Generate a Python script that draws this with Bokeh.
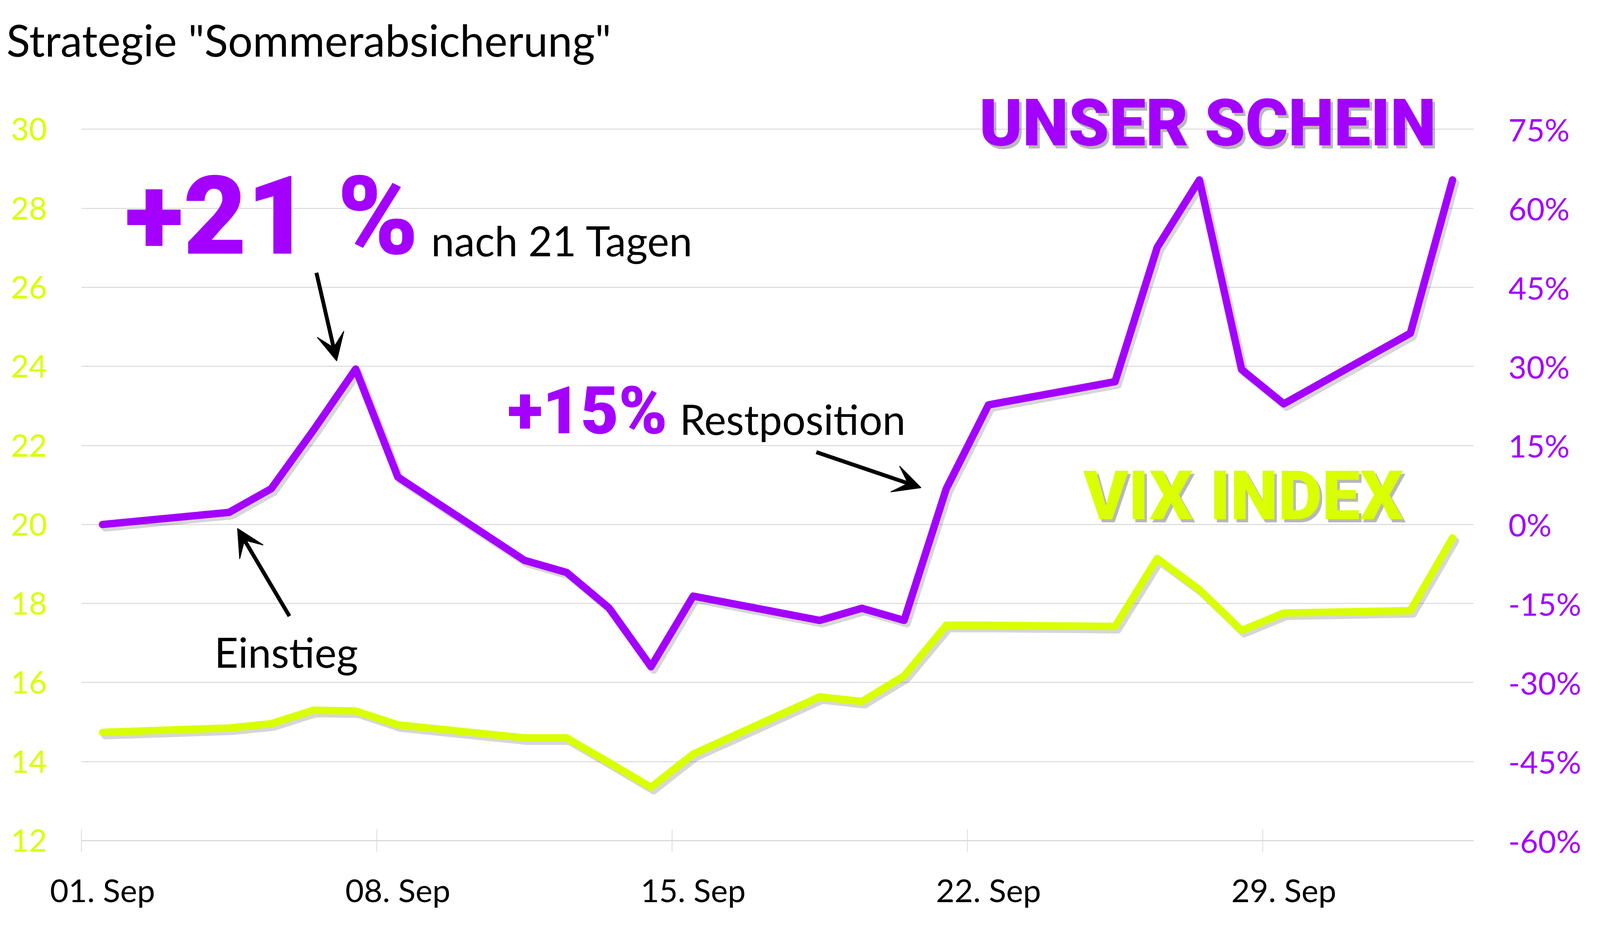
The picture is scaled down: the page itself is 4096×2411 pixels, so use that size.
from bokeh.plotting import figure
from bokeh.models import (Range1d, LinearAxis, FixedTicker, PrintfTickFormatter,
                          Label, Arrow, VeeHead, ColumnDataSource)
from bokeh.transform import dodge
from bokeh.embed import file_html
from bokeh.resources import INLINE

# ---------------- data ----------------
# trading day position (day number counted from 31 Aug: 1 = 01. Sep, 32 = 02. Okt)
day = [1, 4, 5, 6, 7, 8, 11, 12, 13, 14, 15, 18, 19, 20, 21, 22, 25, 26, 27, 28, 29, 32, 33]
vix_index = [14.74, 14.85, 14.96, 15.30, 15.28, 14.93, 14.60, 14.60, 13.98, 13.35, 14.19,
             15.64, 15.52, 16.17, 17.45, 17.45, 17.42, 19.14, 18.35, 17.32, 17.76, 17.82, 19.66]
unser_schein_pct = [0.0, 2.3, 6.8, 17.9, 29.5, 9.0, -6.8, -9.1, -15.8, -27.0, -13.6,
                    -18.2, -15.9, -18.2, 6.8, 22.7, 27.1, 52.6, 65.4, 29.4, 22.9, 36.3, 65.4]

x_tick_days = [1, 8, 15, 22, 29]
x_tick_labels = ["01. Sep", "08. Sep", "15. Sep", "22. Sep", "29. Sep"]
x_tick_marks = [0.5, 7.5, 14.5, 21.5, 28.5]
vix_ticks = [12, 14, 16, 18, 20, 22, 24, 26, 28, 30]
pct_ticks = [-60, -45, -30, -15, 0, 15, 30, 45, 60, 75]

title_text = 'Strategie "Sommerabsicherung"'

PURPLE = "#A300FF"
YELLOW = "#D9FF00"
GRID = "#D9D9D9"
FONT = "Lato"
HEAVY = "Roboto Black, Lato Black, Lato"

src = ColumnDataSource(dict(day=day, vix=vix_index, pct=unser_schein_pct))

Y_TOP = 31.3  # headroom above the 30 gridline for the series labels
PX_PER_UNIT = 101.33  # frame pixels per VIX point
p = figure(width=4080, height=2395, output_backend="svg", toolbar_location=None,
           x_range=Range1d(0.5, 33.5), y_range=Range1d(12, Y_TOP),
           min_border_left=208, min_border_right=308, min_border_top=195, min_border_bottom=244,
           x_axis_location=None, y_axis_location="left")
p.extra_y_ranges = {"pct": Range1d(-60, (Y_TOP - 20) * 7.5)}
p.outline_line_color = None
p.background_fill_color = "white"
p.border_fill_color = "white"

# title
p.title.text = title_text
p.title.align = "left"
p.title.offset = -192
p.title.standoff = 62
p.title.text_font = FONT
p.title.text_font_style = "normal"
p.title.text_font_size = "112px"
p.title.text_line_height = 0.8
p.title.text_color = "black"

# left axis (VIX)
ya = p.yaxis[0]
ya.ticker = FixedTicker(ticks=vix_ticks)
ya.axis_line_color = None
ya.major_tick_line_color = None
ya.minor_tick_line_color = None
ya.major_tick_in = 0
ya.major_tick_out = 0
ya.major_label_standoff = 88
ya.major_label_text_color = YELLOW
ya.major_label_text_font = FONT
ya.major_label_text_font_size = "80px"

# right axis (percent)
ra = LinearAxis(y_range_name="pct", ticker=FixedTicker(ticks=pct_ticks),
                formatter=PrintfTickFormatter(format="%d%%"))
ra.axis_line_color = None
ra.major_tick_line_color = None
ra.minor_tick_line_color = None
ra.major_tick_in = 0
ra.major_tick_out = 0
ra.major_label_standoff = 89
ra.major_label_text_color = PURPLE
ra.major_label_text_font = FONT
ra.major_label_text_font_size = "80px"
p.add_layout(ra, "right")

# bottom axis: tick marks between days
ta = LinearAxis(ticker=FixedTicker(ticks=x_tick_marks))
ta.major_label_overrides = {t: "" for t in x_tick_marks}
ta.major_label_text_font_size = "0px"
ta.major_label_standoff = 0
ta.axis_line_color = GRID
ta.axis_line_width = 3
ta.major_tick_line_color = GRID
ta.major_tick_line_width = 2
ta.major_tick_in = 29
ta.major_tick_out = 29
ta.minor_tick_line_color = None
p.add_layout(ta, "below")

# bottom axis: date labels centred on days
la = LinearAxis(ticker=FixedTicker(ticks=x_tick_days))
la.major_label_overrides = dict(zip(x_tick_days, x_tick_labels))
la.axis_line_color = None
la.major_tick_line_color = None
la.minor_tick_line_color = None
la.major_tick_in = 0
la.major_tick_out = 0
la.major_label_standoff = 47
la.major_label_text_color = "black"
la.major_label_text_font = FONT
la.major_label_text_font_size = "82px"
p.add_layout(la, "below")

p.xgrid.visible = False
p.ygrid.ticker = FixedTicker(ticks=vix_ticks)
p.ygrid.grid_line_color = GRID
p.ygrid.grid_line_width = 2.5

# shadows
p.line(x=dodge("day", 0.065), y=dodge("vix", -0.08), source=src, line_color="black",
       line_alpha=0.16, line_width=20, line_join="round", line_cap="round")
p.line(x=dodge("day", 0.065), y=dodge("pct", -0.6), source=src, y_range_name="pct",
       line_color="black", line_alpha=0.16, line_width=20, line_join="round", line_cap="round")

# series
p.line(x="day", y="vix", source=src, line_color=YELLOW, line_width=19,
       line_join="round", line_cap="round")
p.line(x="day", y="pct", source=src, y_range_name="pct", line_color=PURPLE, line_width=19,
       line_join="round", line_cap="round")

# texts (baseline position given; raised to compensate the label baseline offset)
def add_text(txt, tx, ty, size_px, color, heavy=False, alpha=1.0):
    ty = ty + 0.29 * size_px / PX_PER_UNIT
    p.add_layout(Label(x=tx, y=ty, text=txt, text_font=HEAVY if heavy else FONT,
                       text_font_style="bold" if heavy else "normal",
                       text_font_size=f"{size_px}px", text_color=color, text_alpha=alpha,
                       text_baseline="alphabetic"))

add_text("+21 %", 1.53, 27.0, 280, PURPLE, heavy=True)
add_text("nach 21 Tagen", 8.79, 26.89, 106, "black")
add_text("+15%", 10.6, 22.40, 168, PURPLE, heavy=True)
add_text("Restposition", 14.68, 22.37, 106, "black")
add_text("Einstieg", 3.65, 16.48, 106, "black")

for txt, tx, ty, col, fs in [("UNSER SCHEIN", 21.78, 29.68, PURPLE, 167),
                             ("VIX INDEX", 24.25, 20.22, YELLOW, 174)]:
    add_text(txt, tx + 0.06, ty - 0.08, fs, "black", heavy=True, alpha=0.28)
    add_text(txt, tx, ty, fs, col, heavy=True)

# arrows
for xs, ys, xe, ye in [(6.07, 26.37, 6.55, 24.14),
                       (5.43, 17.68, 4.20, 19.90),
                       (17.92, 21.83, 20.40, 20.93)]:
    p.add_layout(Arrow(end=VeeHead(size=70, fill_color="black", line_color="black", line_width=2),
                       x_start=xs, y_start=ys, x_end=xe, y_end=ye,
                       line_color="black", line_width=10))

open("out.html", "w").write(file_html(p, INLINE))
